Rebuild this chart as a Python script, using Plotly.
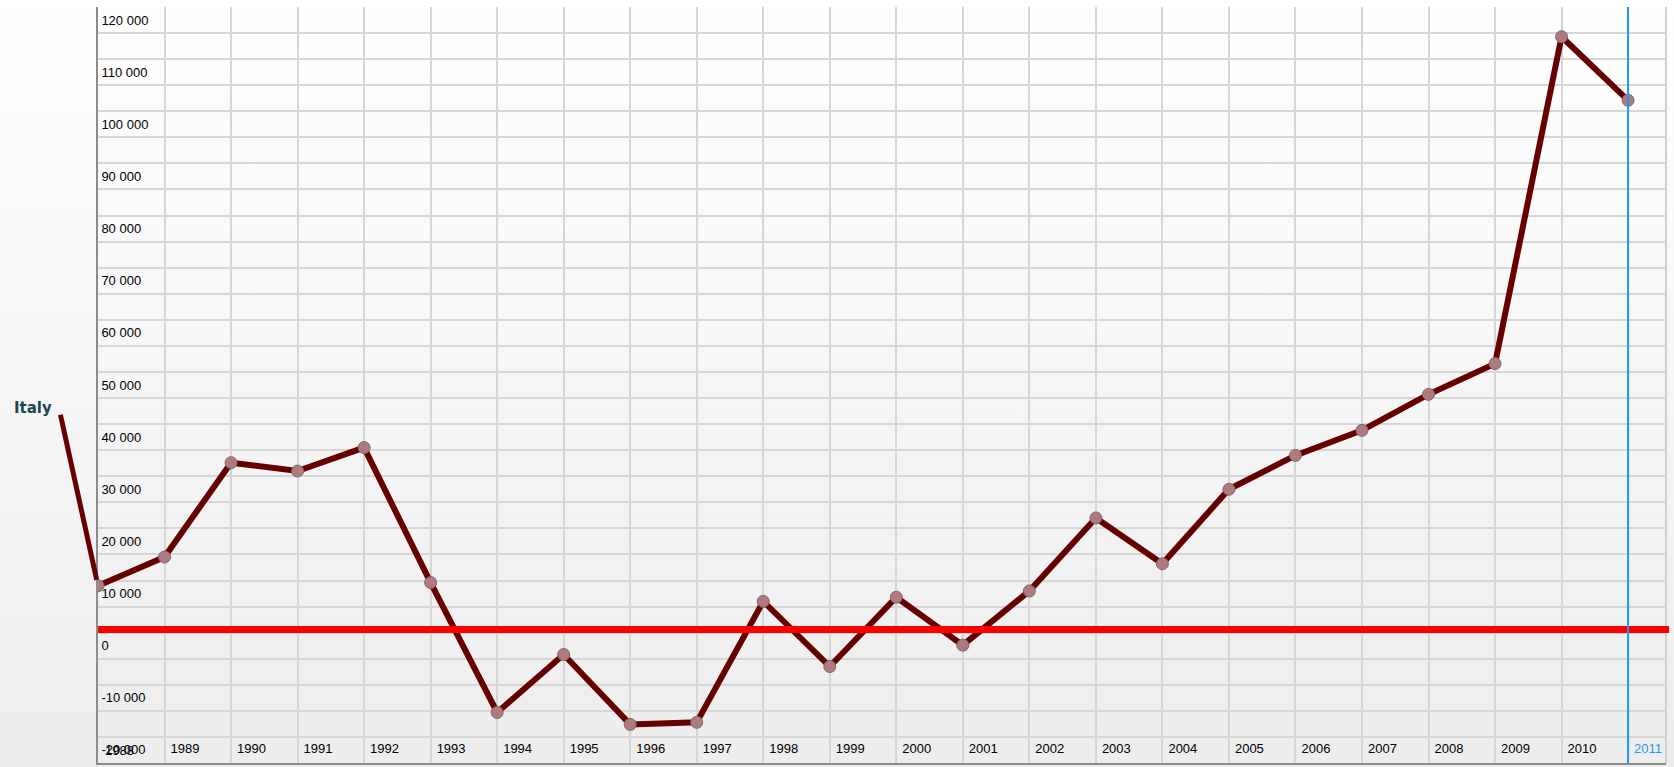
import base64
import plotly.graph_objects as go

# ---- data ----
years = list(range(1988, 2012))
values = [9000, 14500, 32600, 31000, 35500, 9600, -15300, -4200, -17600, -17200,
          6000, -6500, 6800, -2400, 8000, 22000, 13200, 27500, 34000, 38800,
          45700, 51600, 114300, 102100]
series_name = "Italy"
ref_line_value = 600
highlight_year = 2011

y_tick_vals = list(range(-20000, 120001, 5000))
y_tick_text = [("{:,}".format(v).replace(",", " ") if v % 10000 == 0 else "") for v in y_tick_vals]
x_tick_vals = years
x_tick_text = [("" if y == years[0] else
                str(y) if y != highlight_year else "<span style='color:#1a9af0'>%d</span>" % y)
               for y in years]

# ---- layout constants ----
W, H = 1674, 767
ML, MR, MT, MB = 98, 8, 7, 4
PW, PH = W - ML - MR, H - MT - MB

grid_col = "#d6d6d6"
font_fam = "Liberation Sans, Arial, sans-serif"
tick_font = dict(family=font_fam, size=13, color="#000000")

svg = ("<svg xmlns='http://www.w3.org/2000/svg' width='10' height='100' viewBox='0 0 10 100' "
       "preserveAspectRatio='none'><defs><linearGradient id='g' x1='0' y1='0' x2='0' y2='1'>"
       "<stop offset='0' stop-color='#ffffff'/><stop offset='1' stop-color='#ededed'/>"
       "</linearGradient></defs><rect width='10' height='100' fill='url(#g)'/></svg>")
bg_src = "data:image/svg+xml;base64," + base64.b64encode(svg.encode()).decode()

fig = go.Figure()
fig.add_trace(go.Scatter(
    x=years, y=values, mode="lines+markers", name=series_name,
    line=dict(color="#660000", width=6),
    marker=dict(size=12, color="#b07a80", line=dict(color="#7a6a6a", width=1)),
    showlegend=False, hoverinfo="x+y",
))

# label leader line from first point to the series label
fig.add_annotation(x=years[0], y=values[0], xref="x", yref="y", text=" ",
                   font=dict(size=1), showarrow=True, arrowhead=0, arrowwidth=5,
                   arrowcolor="#660000", ax=-38, ay=-173, standoff=6, startstandoff=0)
fig.add_annotation(x=years[0], y=values[0], xref="x", yref="y", text="<b>%s</b>" % series_name,
                   showarrow=False, xanchor="right", yanchor="middle", xshift=-44, yshift=178,
                   font=dict(family="DejaVu Sans, Verdana, sans-serif", size=15, color="#1b4750"))
# first year label (the axis hides the tick label that sits on the y axis line)
fig.add_annotation(x=years[0], xref="x", y=0, yref="paper", text=str(years[0]),
                   showarrow=False, xanchor="left", yanchor="bottom", xshift=5, yshift=3,
                   font=tick_font)

# reference line and highlight line
fig.add_shape(type="line", xref="paper", x0=0, x1=1.002, yref="y", y0=ref_line_value, y1=ref_line_value,
              line=dict(color="#ff0000", width=7), layer="above")
fig.add_shape(type="line", xref="x", x0=highlight_year, x1=highlight_year, yref="paper", y0=0, y1=1.0,
              line=dict(color="#1a9af0", width=2), layer="above")
# right border
fig.add_shape(type="line", xref="paper", x0=1, x1=1, yref="paper", y0=0, y1=1,
              line=dict(color="#d0d0d0", width=2), layer="below")

fig.add_layout_image(dict(source=bg_src, xref="paper", yref="paper",
                          x=-ML / PW, y=1 + MT / PH, sizex=W / PW, sizey=H / PH,
                          xanchor="left", yanchor="top", sizing="stretch", layer="below"))

fig.update_layout(
    width=W, height=H, margin=dict(l=ML, r=MR, t=MT, b=MB),
    paper_bgcolor="#ffffff", plot_bgcolor="rgba(0,0,0,0)",
    font=tick_font,
    showlegend=False,
)
fig.update_xaxes(
    range=[1988, 2011.57], tickmode="array", tickvals=x_tick_vals, ticktext=x_tick_text,
    ticklabelposition="inside right", ticks="", ticklabelstandoff=4, ticklabelshift=5,
    tickfont=tick_font,
    showgrid=True, gridcolor=grid_col, gridwidth=2, zeroline=False,
    showline=True, linecolor="#8c8c8c", linewidth=2,
)
fig.update_yaxes(
    range=[-25000, 120000], tickmode="array", tickvals=y_tick_vals, ticktext=y_tick_text,
    ticklabelposition="inside", ticks="", ticklabelstandoff=3, ticklabelshift=13,
    tickfont=tick_font,
    showgrid=True, gridcolor=grid_col, gridwidth=2, zeroline=False,
    showline=True, linecolor="#8c8c8c", linewidth=2,
)

fig.write_html("out.html", config={"displayModeBar": False},
               post_script="document.body.style.margin='0';document.body.style.overflow='hidden';")
